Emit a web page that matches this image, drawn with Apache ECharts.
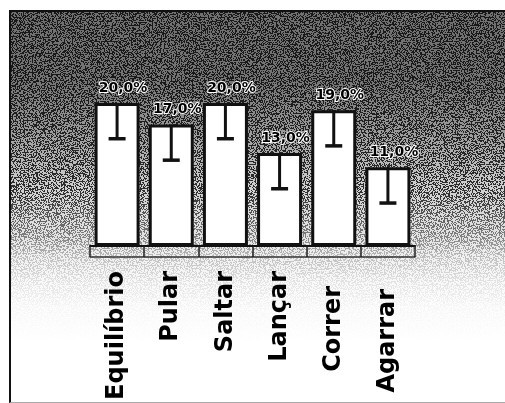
<!DOCTYPE html>
<html><head><meta charset="utf-8">
<script src="https://cdn.jsdelivr.net/npm/echarts@6/dist/echarts.min.js"></script>
<style>
html,body{margin:0;padding:0;background:#fff;}
#frame{position:absolute;left:9px;top:10px;width:496px;height:390px;border-left:2px solid #111;border-top:2px solid #111;border-bottom:1px solid #aaa;
background-image:url("data:image/svg+xml,%3Csvg xmlns='http://www.w3.org/2000/svg' width='496' height='390'%3E%3Cfilter id='n'%3E%3CfeTurbulence type='fractalNoise' baseFrequency='0.75' numOctaves='2' seed='7'/%3E%3CfeComponentTransfer%3E%3CfeFuncR type='discrete' tableValues='0 0 1 1'/%3E%3CfeFuncG type='discrete' tableValues='0 0 1 1'/%3E%3CfeFuncB type='discrete' tableValues='0 0 1 1'/%3E%3CfeFuncA type='linear' slope='0' intercept='0.65'/%3E%3C/feComponentTransfer%3E%3CfeColorMatrix type='matrix' values='1 0 0 0 0 1 0 0 0 0 1 0 0 0 0 0 0 0 1 0'/%3E%3C/filter%3E%3Crect width='100%25' height='100%25' filter='url(%23n)'/%3E%3C/svg%3E"),
linear-gradient(to bottom,#444 0px,#474747 70px,#5e5e5e 120px,#858585 185px,#b4b4b4 226px,#d8d8d8 245px,#eeeeee 270px,#fafafa 295px,#ffffff 330px);
background-blend-mode:overlay,normal;}
#chart{position:absolute;left:0;top:0;width:505px;height:403px;}
</style></head>
<body>
<div id="frame"></div>
<div id="chart"></div>
<script>
var categories = ['Equilíbrio', 'Pular', 'Saltar', 'Lançar', 'Correr', 'Agarrar'];
var values = [20, 17, 20, 13, 19, 11];
var errors = [5, 5, 5, 5, 5, 5];
var labelShift = [0, 0, 0, 0, 15, 18];

var chart = echarts.init(document.getElementById('chart'), null, {renderer: 'canvas'});
var errData = categories.map(function (c, i) { return [i, values[i], values[i] - errors[i]]; });
var axisData = categories.map(function (c, i) {
  return {value: c, textStyle: {padding: [0, labelShift[i], 0, 0]}};
});

chart.setOption({
  backgroundColor: 'transparent',
  animation: false,
  grid: {left: 90, width: 325, top: 103, bottom: 157, containLabel: false},
  xAxis: [{
    type: 'category',
    data: axisData,
    axisLine: {show: true, lineStyle: {color: '#111', width: 2}},
    axisTick: {show: true, length: 11, interval: 0, lineStyle: {color: '#222', width: 1.5}},
    axisLabel: {
      rotate: 90, interval: 0, margin: 25,
      fontFamily: 'DejaVu Sans', fontWeight: 'bold', fontSize: 24, color: '#000'
    }
  }, {
    type: 'category',
    data: categories,
    position: 'bottom',
    offset: 11,
    axisLine: {show: true, lineStyle: {color: '#333', width: 1.5}},
    axisTick: {show: false},
    axisLabel: {show: false}
  }],
  yAxis: {type: 'value', min: 0, max: 20, show: false, splitLine: {show: false}},
  series: [{
    type: 'bar',
    data: values,
    barWidth: 45,
    itemStyle: {color: '#ffffff', borderColor: '#111', borderWidth: 3},
    label: {
      show: true, position: 'top', distance: 8, offset: [6, 0],
      formatter: function (p) { return p.value.toFixed(1).replace('.', ',') + '%'; },
      fontFamily: 'DejaVu Sans', fontWeight: 'bold', fontSize: 14, color: '#000',
      textBorderColor: '#fff', textBorderWidth: 2
    }
  }, {
    type: 'custom',
    data: errData,
    z: 5,
    renderItem: function (params, api) {
      var top = api.coord([api.value(0), api.value(1)]);
      var bot = api.coord([api.value(0), api.value(2)]);
      var capW = 17;
      return {type: 'group', children: [
        {type: 'line', shape: {x1: top[0], y1: top[1], x2: bot[0], y2: bot[1]}, style: {stroke: '#111', lineWidth: 3}},
        {type: 'line', shape: {x1: bot[0] - capW / 2, y1: bot[1], x2: bot[0] + capW / 2, y2: bot[1]}, style: {stroke: '#111', lineWidth: 3.5}}
      ]};
    }
  }]
});
</script>
</body></html>
